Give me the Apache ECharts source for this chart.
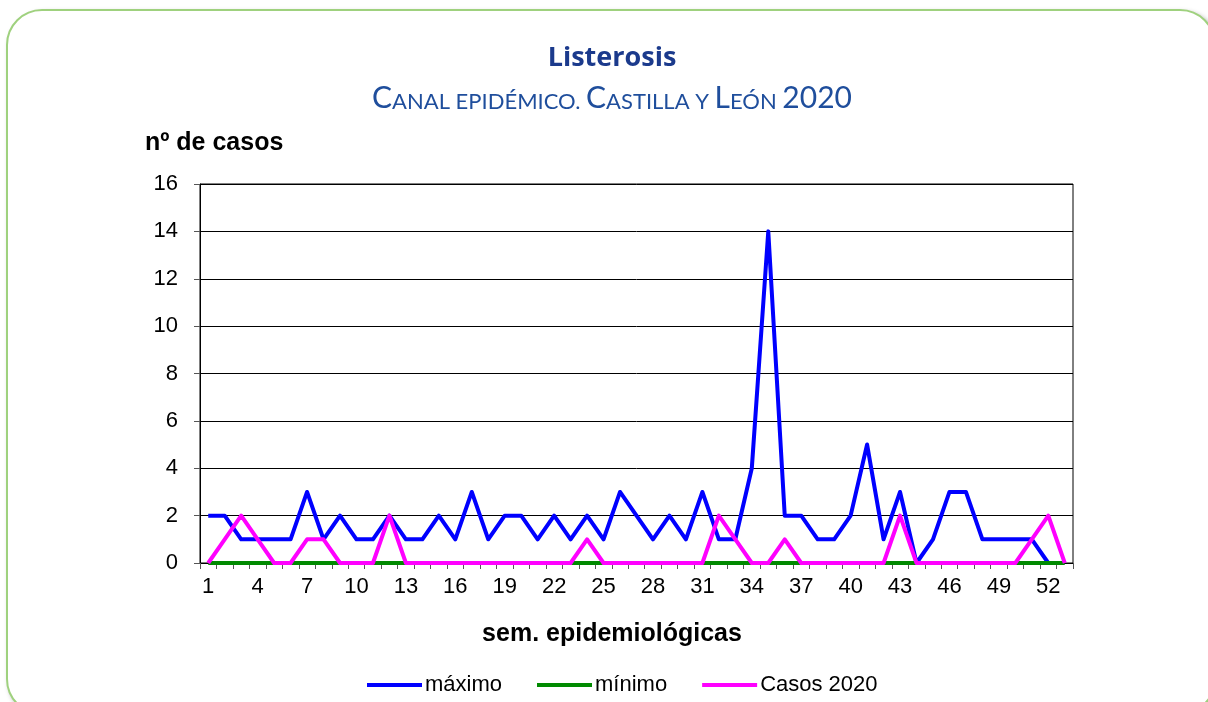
<!DOCTYPE html>
<html>
<head>
<meta charset="utf-8">
<script src="https://cdn.jsdelivr.net/npm/echarts@6/dist/echarts.min.js"></script>
<style>
  html, body { margin: 0; padding: 0; background: #fff; }
  #frame {
    position: absolute; left: 6px; top: 9px; width: 1210px; height: 706px;
    border: 2px solid #9fd17e; border-radius: 36px; box-sizing: border-box;
    box-shadow: 3px 3px 5px rgba(0, 0, 0, 0.35); background: #fff;
  }
  #chart { position: absolute; left: 0; top: 0; width: 1208px; height: 702px; }
</style>
</head>
<body>
<div id="frame"></div>
<div id="chart"></div>
<script>
// semanas epidemiológicas 1..53
const weeks = [];
for (let i = 1; i <= 53; i++) weeks.push(String(i));

const maximo = [2, 2, 1, 1, 1, 1, 3, 1, 2, 1, 1, 2, 1, 1, 2, 1, 3, 1, 2, 2,
                1, 2, 1, 2, 1, 3, 2, 1, 2, 1, 3, 1, 1, 4, 14, 2, 2, 1, 1, 2,
                5, 1, 3, 0, 1, 3, 3, 1, 1, 1, 1, 0];
const minimo = [0, 0, 0, 0, 0, 0, 0, 0, 0, 0, 0, 0, 0, 0, 0, 0, 0, 0, 0, 0,
                0, 0, 0, 0, 0, 0, 0, 0, 0, 0, 0, 0, 0, 0, 0, 0, 0, 0, 0, 0,
                0, 0, 0, 0, 0, 0, 0, 0, 0, 0, 0, 0, 0];
const casos2020 = [0, 1, 2, 1, 0, 0, 1, 1, 0, 0, 0, 2, 0, 0, 0, 0, 0, 0, 0, 0,
                   0, 0, 0, 1, 0, 0, 0, 0, 0, 0, 0, 2, 1, 0, 0, 1, 0, 0, 0, 0,
                   0, 0, 2, 0, 0, 0, 0, 0, 0, 0, 1, 2, 0];

const FONT = '"Liberation Sans", Arial, sans-serif';

const chart = echarts.init(document.getElementById('chart'));

chart.setOption({
    animation: false,
    backgroundColor: 'transparent',
    textStyle: { fontFamily: FONT },
    grid: {
        left: 200, top: 184, width: 873, height: 379,
        show: true, borderColor: '#000', borderWidth: 1, backgroundColor: 'transparent'
    },
    graphic: [
        {
            type: 'text', x: 612, y: 58,
            style: {
                text: 'Listerosis', fill: '#1b3a8c',
                font: 'bold 27px "Open Sans", sans-serif',
                align: 'center', verticalAlign: 'middle'
            }
        },
        {
            type: 'text', x: 612, y: 97,
            style: {
                text: '{b|C}{s|ANAL EPIDÉMICO. }{b|C}{s|ASTILLA Y }{b|L}{s|EÓN }{b|2020}',
                align: 'center', verticalAlign: 'middle',
                rich: {
                    b: { fontSize: 30, fontFamily: 'Lato', fill: '#1f4e9c', verticalAlign: 'bottom', lineHeight: 32 },
                    s: { fontSize: 22, fontFamily: 'Lato', fill: '#1f4e9c', verticalAlign: 'bottom', lineHeight: 32 }
                }
            }
        },
        {
            type: 'text', x: 145, y: 143,
            style: {
                text: 'nº de casos', fill: '#000',
                font: 'bold 25px ' + FONT,
                align: 'left', verticalAlign: 'middle'
            }
        },
        {
            type: 'text', x: 612, y: 634,
            style: {
                text: 'sem. epidemiológicas', fill: '#000',
                font: 'bold 25px ' + FONT,
                align: 'center', verticalAlign: 'middle'
            }
        }
    ],
    legend: {
        left: 362, top: 669,
        icon: 'rect', itemWidth: 55, itemHeight: 4, itemGap: 35,
        textStyle: { fontSize: 22, color: '#000', fontFamily: FONT, padding: [0, 0, 0, -2] },
        data: ['máximo', 'mínimo', 'Casos 2020']
    },
    xAxis: {
        type: 'category',
        data: weeks,
        boundaryGap: true,
        axisLine: { lineStyle: { color: '#000', width: 1 } },
        axisTick: { show: true, interval: 0, length: 6, lineStyle: { color: '#555' } },
        axisLabel: { interval: 2, fontSize: 22, color: '#000', margin: 13 },
        splitLine: { show: false }
    },
    yAxis: {
        type: 'value',
        min: 0, max: 16, interval: 2,
        axisLine: { show: true, lineStyle: { color: '#000', width: 1 } },
        axisTick: { show: true, length: 6, lineStyle: { color: '#555' } },
        axisLabel: { fontSize: 22, color: '#000', margin: 22 },
        splitLine: { lineStyle: { color: '#000', width: 1 } }
    },
    series: [
        {
            name: 'máximo', type: 'line', data: maximo,
            symbol: 'none', color: '#0000ff',
            lineStyle: { width: 4, color: '#0000ff', join: 'round' }
        },
        {
            name: 'mínimo', type: 'line', data: minimo,
            symbol: 'none', color: '#008a00',
            lineStyle: { width: 4, color: '#008a00' }
        },
        {
            name: 'Casos 2020', type: 'line', data: casos2020,
            symbol: 'none', color: '#ff00ff',
            lineStyle: { width: 4, color: '#ff00ff', join: 'round' }
        }
    ]
});
</script>
</body>
</html>
